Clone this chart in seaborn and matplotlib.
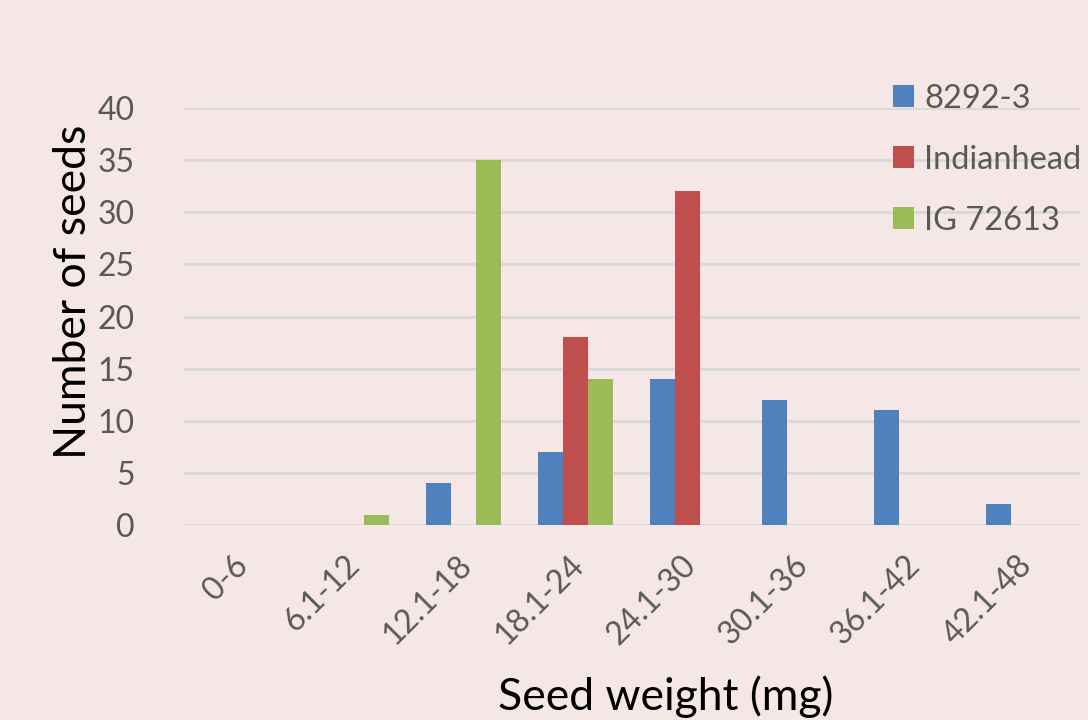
import pandas as pd
import matplotlib
matplotlib.use("Agg")
import matplotlib.pyplot as plt
import matplotlib.transforms as mtransforms
import seaborn as sns

categories = ["0-6", "6.1-12", "12.1-18", "18.1-24", "24.1-30", "30.1-36", "36.1-42", "42.1-48"]
series_names = ["8292-3", "Indianhead", "IG 72613"]
counts_8292 = [0, 0, 4, 7, 14, 12, 11, 2]
counts_indianhead = [0, 0, 0, 18, 32, 0, 0, 0]
counts_ig = [0, 1, 35, 14, 0, 0, 0, 0]
colors = ["#4F81BD", "#C0504D", "#9BBB59"]
bg = "#F4E7E5"

rows = []
for name, vals in zip(series_names, [counts_8292, counts_indianhead, counts_ig]):
    for cat, v in zip(categories, vals):
        rows.append({"bin": cat, "line": name, "seeds": v})
df = pd.DataFrame(rows)

sns.set_style("white")
plt.rcParams['font.family'] = ['Lato', 'DejaVu Sans']

fig = plt.figure(figsize=(10.88, 7.2), dpi=100, facecolor=bg)
ax = fig.add_axes([0.1687, 0.2708, 0.8235, 0.5792])
ax.set_facecolor(bg)

sns.barplot(data=df, x="bin", y="seeds", hue="line", order=categories,
            hue_order=series_names, palette=colors, width=0.67,
            saturation=1, errorbar=None, ax=ax, zorder=3, edgecolor="none")

ax.set_ylim(0, 40)
ax.set_xlim(-0.5, 7.5)
ax.set_yticks(range(0, 41, 5))
ax.yaxis.grid(True, color="#D9D9D9", linewidth=2, zorder=0)
ax.set_axisbelow(True)
for s in ax.spines.values():
    s.set_visible(False)
ax.tick_params(axis="y", length=0, pad=35, labelsize=23, labelcolor="#595959")
ax.tick_params(axis="x", length=0, pad=18, labelsize=23, labelcolor="#595959")
shift = mtransforms.ScaledTranslation(-0.07, 0, fig.dpi_scale_trans)
for lab in ax.get_xticklabels():
    lab.set_rotation(45)
    lab.set_ha("right")
    lab.set_rotation_mode("anchor")
    lab.set_transform(lab.get_transform() + shift)

ax.set_ylabel("Number of seeds", fontsize=32, color="black")
ax.set_xlabel("Seed weight (mg)", fontsize=32, color="black")
ax.yaxis.set_label_coords(-0.1, 0.56)
ax.xaxis.set_label_coords(0.5385, -0.36)

handles, labels = ax.get_legend_handles_labels()
ax.legend(handles, labels, loc="upper left", bbox_to_anchor=(0.809, 0.902),
          bbox_transform=fig.transFigure, frameon=False, fontsize=23.5,
          labelcolor="#595959", handlelength=0.65, handleheight=0.65,
          handletextpad=0.3, labelspacing=0.95, borderaxespad=0)

fig.savefig("out.png", dpi=100, facecolor=bg)
